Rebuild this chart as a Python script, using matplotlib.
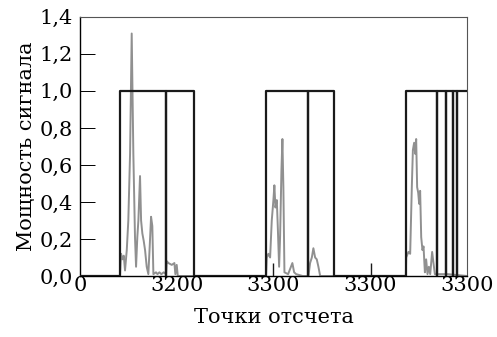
import matplotlib
matplotlib.use('Agg')
import matplotlib.pyplot as plt

# black reference signal (on / off), vertices
black_x = [0, 41.3, 41.3, 88.9, 88.9, 88.9, 117.5, 117.5, 192.2, 192.2, 235.7, 235.7, 235.7,
           262.9, 262.9, 336.6, 336.6, 369.3, 369.3, 369.3, 378.0, 378.0, 378.0,
           385.2, 385.2, 385.2, 389.3, 389.3, 389.3, 400]
black_y = [0, 0, 1.0, 1.0, 0, 1.0, 1.0, 0, 0, 1.0, 1.0, 0, 1.0,
           1.0, 0, 0, 1.0, 1.0, 0, 1.0, 1.0, 0, 1.0,
           1.0, 0, 1.0, 1.0, 0, 1.0, 1.0]

# short black marks
mark_x = [199.8, 300.5]
mark_h = [0.07, 0.07]

# grey signal power
grey_x = [0, 41.3, 42.4, 43.7, 45.2, 46.5, 48.3, 49.9, 51.7, 53.4, 55.1, 56.8, 57.9, 59.2,
          60.3, 62.0, 63.1, 64.4, 65.8, 67.2, 68.9, 70.6, 72.0, 73.4, 74.7, 75.8,
          78.5, 80.0, 82.0, 84.0, 86.5, 88.9, 89.6, 91.3, 94.8, 97.5, 98.5, 99.9, 101.0,
          192.2, 193.0, 194.6, 196.4, 198.1, 199.8, 200.8, 201.9, 203.3, 204.3, 205.7,
          206.7, 208.1, 209.1, 210.1, 211.2, 215.0, 219.4, 221.2, 223.3, 230.0,
          236.0, 237.7, 239.5, 241.1, 242.9, 244.6, 246.3, 248.1,
          336.6, 337.0, 339.3, 341.1, 342.8, 343.9, 345.2, 346.3, 347.3, 348.3, 349.4,
          350.4, 351.4, 352.5, 353.8, 354.9, 356.3, 357.6, 359.0, 360.4, 361.8, 363.8,
          365.2, 366.6, 372.0, 380.0, 400]
grey_y = [0, 0, 0.12, 0.09, 0.11, 0.03, 0.14, 0.30, 0.66, 1.31, 0.66, 0.21, 0.05, 0.21,
          0.30, 0.54, 0.30, 0.23, 0.19, 0.14, 0.05, 0.01, 0.16, 0.32, 0.27, 0.01,
          0.02, 0.01, 0.02, 0.01, 0.02, 0.01, 0.08, 0.07, 0.06, 0.07, 0.01, 0.06, 0.0,
          0, 0.10, 0.12, 0.10, 0.30, 0.41, 0.49, 0.37, 0.41, 0.27, 0.05,
          0.21, 0.57, 0.74, 0.48, 0.02, 0.01, 0.07, 0.02, 0.01, 0.0,
          0.0, 0.07, 0.10, 0.15, 0.10, 0.09, 0.05, 0.0,
          0, 0.10, 0.13, 0.12, 0.48, 0.68, 0.72, 0.66, 0.74, 0.48, 0.45,
          0.39, 0.46, 0.21, 0.14, 0.16, 0.02, 0.09, 0.01, 0.05, 0.01, 0.13,
          0.07, 0.01, 0.01, 0.01, 0]

xticks = [0, 100, 200, 300, 400]
xtick_labels = ['0', '3200', '3300', '3300', '3300']
yticks = [0, 0.2, 0.4, 0.6, 0.8, 1.0, 1.2, 1.4]
ytick_labels = ['0,0', '0,2', '0,4', '0,6', '0,8', '1,0', '1,2', '1,4']

plt.rcParams['font.family'] = ['DejaVu Serif']

fig = plt.figure(figsize=(4.97, 3.37), dpi=100)
ax = fig.add_axes([0.161, 0.181, 0.779, 0.769])

ax.plot(grey_x, grey_y, color='#909090', lw=1.4, zorder=2)
ax.plot(black_x, black_y, color='#1a1a1a', lw=1.6, zorder=3)
ax.vlines(mark_x, 0, mark_h, color='#1a1a1a', lw=1.0, zorder=3)

ax.set_xlim(0, 400)
ax.set_ylim(0, 1.4)
ax.set_xticks(xticks)
ax.set_xticklabels(xtick_labels, fontsize=15)
ax.set_yticks(yticks)
ax.set_yticklabels(ytick_labels, fontsize=15)
ax.tick_params(axis='y', direction='in', length=11, width=0.7, pad=5)
ax.tick_params(axis='x', length=0, pad=0)
ax.set_xlabel('Точки отсчета', fontsize=15, labelpad=9)
ax.set_ylabel('Мощность сигнала', fontsize=15, labelpad=3)

for s in ['top', 'right']:
    ax.spines[s].set_color('#555555')
    ax.spines[s].set_linewidth(0.8)
ax.spines['left'].set_linewidth(1.0)
ax.spines['bottom'].set_linewidth(1.0)

fig.savefig('out.png', dpi=100)
